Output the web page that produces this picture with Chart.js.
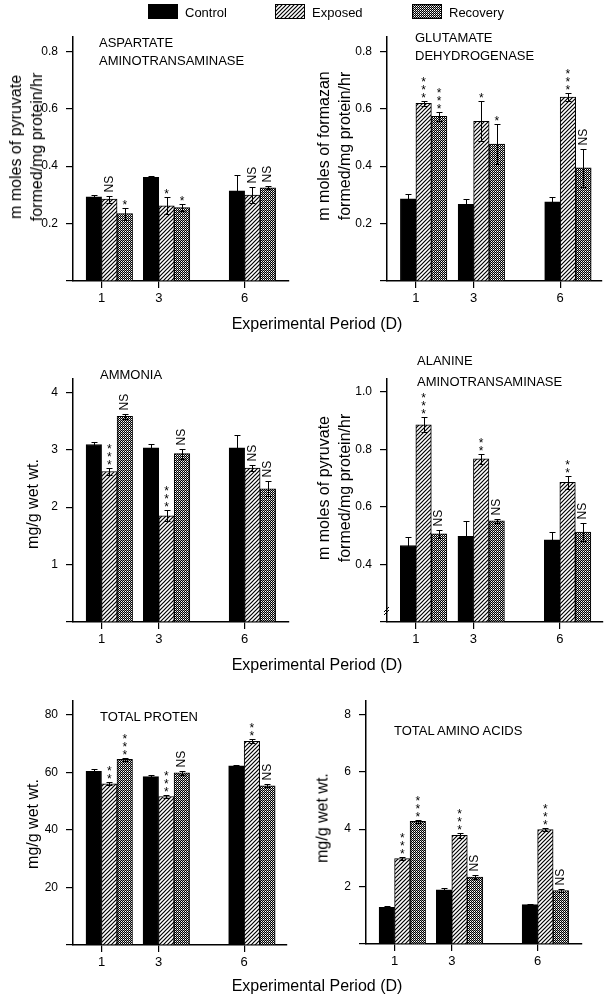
<!DOCTYPE html>
<html>
<head>
<meta charset="utf-8">
<title>Experimental period - tissue levels</title>
<script src="https://cdn.jsdelivr.net/npm/chart.js@4.4.0/dist/chart.umd.min.js"></script>
<style>
    html, body { margin: 0; padding: 0; background: #fff; }
    body { font-family: 'Liberation Sans', Arial, Helvetica, sans-serif; color: #000; }
    #figure { position: relative; width: 605px; height: 996px; overflow: hidden; }
    #figure canvas { position: absolute; }
    .txt { position: absolute; white-space: nowrap; z-index: 2; }
    .legend-label { font-size: 13px; line-height: 13px; transform: translateY(-50%); }
    .panel-title { font-size: 13px; }
    .ytitle { font-size: 16px; line-height: 21px; text-align: center; transform: translate(-50%, -50%) rotate(-90deg); }
    .xtitle { font-size: 16px; line-height: 16px; transform: translate(-50%, -50%); }
</style>
</head>
<body>
<div id="figure"></div>
<script>
// shared categories
const days = [1, 3, 6];
const seriesNames = ['Control', 'Exposed', 'Recovery'];

// aspartate aminotransaminase
const astControl = [0.293, 0.361, 0.314];
const astExposed = [0.285, 0.262, 0.299];
const astRecovery = [0.235, 0.256, 0.325];
const astControlErr = [0.008, 0.005, 0.055];
const astExposedErr = [0.012, 0.029, 0.029];
const astRecoveryErr = [0.021, 0.011, 0.005];
const astExposedSig = ['NS', '*', 'NS'];
const astRecoverySig = ['*', '*', 'NS'];
const astTicks = [0, 0.2, 0.4, 0.6, 0.8];

// glutamate dehydrogenase
const gdhControl = [0.286, 0.267, 0.276];
const gdhExposed = [0.619, 0.556, 0.641];
const gdhRecovery = [0.574, 0.477, 0.394];
const gdhControlErr = [0.016, 0.017, 0.017];
const gdhExposedErr = [0.008, 0.070, 0.014];
const gdhRecoveryErr = [0.015, 0.071, 0.065];
const gdhExposedSig = ['***', '*', '***'];
const gdhRecoverySig = ['***', '*', 'NS'];
const gdhTicks = [0, 0.2, 0.4, 0.6, 0.8];

// ammonia
const nh3Control = [3.09, 3.03, 3.03];
const nh3Exposed = [2.62, 1.85, 2.68];
const nh3Recovery = [3.58, 2.93, 2.32];
const nh3ControlErr = [0.04, 0.06, 0.22];
const nh3ExposedErr = [0.06, 0.10, 0.06];
const nh3RecoveryErr = [0.04, 0.09, 0.13];
const nh3ExposedSig = ['***', '***', 'NS'];
const nh3RecoverySig = ['NS', 'NS', 'NS'];
const nh3Ticks = [0, 1, 2, 3, 4];

// alanine aminotransaminase
const altControl = [0.466, 0.498, 0.486];
const altExposed = [0.886, 0.767, 0.686];
const altRecovery = [0.507, 0.552, 0.513];
const altControlErr = [0.029, 0.052, 0.027];
const altExposedErr = [0.026, 0.017, 0.023];
const altRecoveryErr = [0.014, 0.007, 0.031];
const altExposedSig = ['***', '**', '**'];
const altRecoverySig = ['NS', 'NS', 'NS'];
const altTicks = [0.2, 0.4, 0.6, 0.8, 1.0];

// total protein
const tpControl = [60.4, 58.5, 62.3];
const tpExposed = [56.0, 51.6, 70.8];
const tpRecovery = [64.5, 59.8, 55.3];
const tpControlErr = [0.6, 0.5, 0.3];
const tpExposedErr = [0.5, 0.5, 0.7];
const tpRecoveryErr = [0.6, 0.6, 0.5];
const tpExposedSig = ['**', '***', '**'];
const tpRecoverySig = ['***', 'NS', 'NS'];
const tpTicks = [0, 20, 40, 60, 80];

// total amino acids
const taaControl = [1.28, 1.89, 1.37];
const taaExposed = [2.97, 3.78, 3.98];
const taaRecovery = [4.27, 2.33, 1.86];
const taaControlErr = [0.06, 0.05, 0.02];
const taaExposedErr = [0.05, 0.08, 0.06];
const taaRecoveryErr = [0.05, 0.08, 0.06];
const taaExposedSig = ['***', '***', '***'];
const taaRecoverySig = ['***', 'NS', 'NS'];
const taaTicks = [0, 2, 4, 6, 8];

const FONT = '"Liberation Sans", Arial, Helvetica, sans-serif';
const BAR_SHIFT = 0.27;   // day ticks sit on the control/exposed boundary

const panels = [
    { id: 'ast', values: [astControl, astExposed, astRecovery], errors: [astControlErr, astExposedErr, astRecoveryErr],
      sig: [null, astExposedSig, astRecoverySig], yTicks: astTicks, yMax: 0.85, decimals: 1, xMax: 7.55,
      area: { left: 73, top: 37, right: 289, bottom: 281 },
      title: ['ASPARTATE', 'AMINOTRANSAMINASE'], titlePos: [99, 34, 18],
      yTitle: ['m moles of pyruvate', 'formed/mg protein/hr'], yTitlePos: [26, 147] },
    { id: 'gdh', values: [gdhControl, gdhExposed, gdhRecovery], errors: [gdhControlErr, gdhExposedErr, gdhRecoveryErr],
      sig: [null, gdhExposedSig, gdhRecoverySig], yTicks: gdhTicks, yMax: 0.85, decimals: 1, xMax: 7.45,
      area: { left: 387, top: 37, right: 602, bottom: 281 },
      title: ['GLUTAMATE', 'DEHYDROGENASE'], titlePos: [415, 29, 18],
      yTitle: ['m moles of formazan', 'formed/mg protein/hr'], yTitlePos: [334, 146] },
    { id: 'nh3', values: [nh3Control, nh3Exposed, nh3Recovery], errors: [nh3ControlErr, nh3ExposedErr, nh3RecoveryErr],
      sig: [null, nh3ExposedSig, nh3RecoverySig], yTicks: nh3Ticks, yMax: 4.23, decimals: 0, xMax: 7.55,
      area: { left: 73, top: 379, right: 289, bottom: 622 },
      title: ['AMMONIA'], titlePos: [100, 366, 18],
      yTitle: ['mg/g wet wt.'], yTitlePos: [32, 504] },
    { id: 'alt', values: [altControl, altExposed, altRecovery], errors: [altControlErr, altExposedErr, altRecoveryErr],
      sig: [null, altExposedSig, altRecoverySig], yTicks: altTicks, yMax: 1.045, decimals: 1, xMax: 7.5,
      area: { left: 387, top: 379, right: 603, bottom: 622 }, axisBreak: true,
      title: ['ALANINE', 'AMINOTRANSAMINASE'], titlePos: [417, 350, 21],
      yTitle: ['m moles of pyruvate', 'formed/mg protein/hr'], yTitlePos: [334, 488] },
    { id: 'tp', values: [tpControl, tpExposed, tpRecovery], errors: [tpControlErr, tpExposedErr, tpRecoveryErr],
      sig: [null, tpExposedSig, tpRecoverySig], yTicks: tpTicks, yMax: 84.8, decimals: 0, xMax: 7.5,
      area: { left: 73, top: 701, right: 287, bottom: 945 },
      title: ['TOTAL PROTEN'], titlePos: [100, 708, 18],
      yTitle: ['mg/g wet wt.'], yTitlePos: [32, 824] },
    { id: 'taa', values: [taaControl, taaExposed, taaRecovery], errors: [taaControlErr, taaExposedErr, taaRecoveryErr],
      sig: [null, taaExposedSig, taaRecoverySig], yTicks: taaTicks, yMax: 8.46, decimals: 0, xMax: 7.55,
      area: { left: 366, top: 701, right: 582, bottom: 944 },
      title: ['TOTAL AMINO ACIDS'], titlePos: [394, 722, 18],
      yTitle: ['mg/g wet wt.'], yTitlePos: [322, 818] }
];

// error bars + significance marks, drawn through the chart scales
const errorBarPlugin = {
    id: 'errorBars',
    afterDatasetsDraw: function (chart, args, opts) {
        const ctx = chart.ctx;
        const yScale = chart.scales.y;
        ctx.save();
        ctx.strokeStyle = '#000';
        ctx.fillStyle = '#000';
        ctx.lineWidth = 1;
        chart.data.datasets.forEach((ds, i) => {
            const meta = chart.getDatasetMeta(i);
            meta.data.forEach((bar, j) => {
                const x = Math.round(bar.x) + 0.5;
                const top = Math.round(yScale.getPixelForValue(ds.data[j] + ds.errors[j])) + 0.5;
                const low = Math.round(yScale.getPixelForValue(ds.data[j] - ds.errors[j])) + 0.5;
                ctx.beginPath();
                ctx.moveTo(x, low); ctx.lineTo(x, top);
                ctx.moveTo(x - 3, top); ctx.lineTo(x + 3, top);
                ctx.moveTo(x - 3, low); ctx.lineTo(x + 3, low);
                ctx.stroke();

                const mark = ds.sig ? ds.sig[j] : '';
                if (mark === 'NS') {
                    ctx.save();
                    ctx.translate(bar.x, top - 4);
                    ctx.rotate(-Math.PI / 2);
                    ctx.font = '12px ' + FONT;
                    ctx.textAlign = 'left';
                    ctx.textBaseline = 'middle';
                    ctx.fillText(mark, 0, 0);
                    ctx.restore();
                } else if (mark) {
                    ctx.font = '12px ' + FONT;
                    ctx.textAlign = 'center';
                    ctx.textBaseline = 'alphabetic';
                    for (let k = 0; k < mark.length; k++) {
                        const cy = top - 7 - k * 8;
                        ctx.fillText('*', bar.x, cy + 7);
                    }
                }
            });
        });
        // broken axis mark
        if (opts && opts.axisBreak) {
            const left = chart.chartArea.left;
            const yb = yScale.getPixelForValue(yScale.min) - 12;
            ctx.lineWidth = 1;
            ctx.beginPath();
            ctx.moveTo(left - 3, yb + 2); ctx.lineTo(left + 2, yb - 3);
            ctx.moveTo(left - 3, yb + 5); ctx.lineTo(left + 2, yb);
            ctx.stroke();
        }
        ctx.restore();
    }
};

const FigurePanels = {
    charts: {},
    fills: [],

    init: function () {
        Chart.defaults.font.family = FONT;
        Chart.defaults.color = '#000';
        this.fills = ['#000', this.makeHatch(), this.makeMesh()];
        this.buildLegend();
        panels.forEach(p => this.buildPanel(p));
        this.addText('Experimental Period (D)', 'xtitle', 317, 324);
        this.addText('Experimental Period (D)', 'xtitle', 317, 665);
        this.addText('Experimental Period (D)', 'xtitle', 317, 986);
    },

    // diagonal hatch for Exposed
    makeHatch: function () {
        const c = document.createElement('canvas');
        c.width = 4; c.height = 4;
        const g = c.getContext('2d');
        g.fillStyle = '#fff';
        g.fillRect(0, 0, 4, 4);
        g.strokeStyle = '#000';
        g.lineWidth = 1.2;
        g.beginPath();
        g.moveTo(0, 4); g.lineTo(4, 0);
        g.moveTo(-1, 1); g.lineTo(1, -1);
        g.moveTo(3, 5); g.lineTo(5, 3);
        g.stroke();
        return g.createPattern(c, 'repeat');
    },

    // fine checker for Recovery
    makeMesh: function () {
        const c = document.createElement('canvas');
        c.width = 2; c.height = 2;
        const g = c.getContext('2d');
        g.fillStyle = '#000';
        g.fillRect(0, 0, 2, 2);
        g.fillStyle = '#fff';
        g.fillRect(0, 0, 1, 1);
        g.fillStyle = '#9a9a9a';
        g.fillRect(1, 1, 1, 1);
        return g.createPattern(c, 'repeat');
    },

    addText: function (html, cls, x, y) {
        const el = document.createElement('div');
        el.className = 'txt ' + cls;
        el.innerHTML = html;
        el.style.left = x + 'px';
        el.style.top = y + 'px';
        document.getElementById('figure').appendChild(el);
        return el;
    },

    buildLegend: function () {
        const fig = document.getElementById('figure');
        const swatchLeft = [148, 275, 412];
        seriesNames.forEach((name, i) => {
            const sw = document.createElement('canvas');
            sw.width = 30; sw.height = 15;
            sw.style.left = swatchLeft[i] + 'px';
            sw.style.top = '4px';
            const g = sw.getContext('2d');
            g.fillStyle = this.fills[i];
            g.fillRect(0, 0, 30, 15);
            g.strokeStyle = '#000';
            g.lineWidth = 1;
            g.strokeRect(0.5, 0.5, 29, 14);
            fig.appendChild(sw);
            this.addText(name, 'legend-label', swatchLeft[i] + 37, 12);
        });
    },

    buildPanel: function (p) {
        const fig = document.getElementById('figure');
        const padTop = 20, padRight = 3, yAxisW = 50, xAxisH = 40;
        const canvas = document.createElement('canvas');
        canvas.width = p.area.right - p.area.left + yAxisW + padRight;
        canvas.height = p.area.bottom - p.area.top + padTop + xAxisH;
        canvas.style.left = (p.area.left - yAxisW) + 'px';
        canvas.style.top = (p.area.top - padTop) + 'px';
        fig.appendChild(canvas);

        const yMin = p.yTicks[0];
        const datasets = seriesNames.map((name, i) => ({
            label: name,
            data: p.values[i],
            errors: p.errors[i],
            sig: p.sig[i],
            xAxisID: 'x',
            yAxisID: 'y',
            backgroundColor: this.fills[i],
            borderColor: '#000',
            borderWidth: 1,
            barThickness: 15.5,
            base: yMin
        }));

        this.charts[p.id] = new Chart(canvas.getContext('2d'), {
            type: 'bar',
            data: { labels: days, datasets: datasets },
            options: {
                responsive: false,
                animation: false,
                events: [],
                layout: { padding: { top: padTop, right: padRight, left: 0, bottom: 0 } },
                plugins: {
                    legend: { display: false },
                    tooltip: { enabled: false },
                    errorBars: { axisBreak: !!p.axisBreak }
                },
                scales: {
                    x: {
                        type: 'linear', display: false, offset: false,
                        grid: { offset: false },
                        min: -BAR_SHIFT, max: p.xMax - BAR_SHIFT
                    },
                    xt: {
                        type: 'linear', position: 'bottom', offset: false,
                        min: 0, max: p.xMax,
                        afterBuildTicks: (s) => { s.ticks = days.map(v => ({ value: v })); },
                        afterFit: (s) => { s.height = xAxisH; },
                        grid: { offset: false, drawOnChartArea: false, drawTicks: true, tickLength: 7, color: '#000', lineWidth: 1.2 },
                        border: { display: true, color: '#000', width: 1.5 },
                        ticks: { color: '#000', font: { size: 13 }, padding: 3, maxRotation: 0, autoSkip: false }
                    },
                    y: {
                        type: 'linear', position: 'left',
                        min: yMin, max: p.yMax,
                        afterBuildTicks: (s) => { s.ticks = p.yTicks.map(v => ({ value: v })); },
                        afterFit: (s) => { s.width = yAxisW; },
                        grid: { drawOnChartArea: false, drawTicks: true, tickLength: 7, color: '#000', lineWidth: 1.2 },
                        border: { display: true, color: '#000', width: 1.5 },
                        ticks: {
                            color: '#000', font: { size: 12 }, padding: 8,
                            callback: (v) => v === yMin ? '' : Number(v).toFixed(p.decimals)
                        }
                    }
                }
            },
            plugins: [errorBarPlugin]
        });

        // panel title and y-axis title as page text
        this.addText(p.title.join('<br>'), 'panel-title', p.titlePos[0], p.titlePos[1])
            .style.lineHeight = p.titlePos[2] + 'px';
        this.addText(p.yTitle.join('<br>'), 'ytitle', p.yTitlePos[0], p.yTitlePos[1]);
    }
};

document.addEventListener('DOMContentLoaded', function () {
    FigurePanels.init();
});
</script>
</body>
</html>
